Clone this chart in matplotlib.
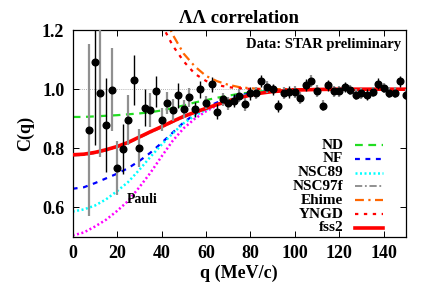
import matplotlib
matplotlib.use('Agg')
import matplotlib.pyplot as plt
import numpy as np

plt.rcParams['font.family'] = ['Liberation Serif', 'DejaVu Serif']
plt.rcParams['font.weight'] = 'bold'

# STAR preliminary data
q_data = [7.5, 10, 12.5, 15, 17.5, 20, 22.5, 25, 27.5, 30, 32.5, 35, 37.5, 40, 42.5,
          45, 47.5, 50, 52.5, 55, 57.5, 60, 62.5, 65, 67.5, 70, 72.5, 75, 77.5, 80,
          82.5, 85, 87.5, 90, 92.5, 95, 97.5, 100, 102.5, 105, 107.5, 110, 112.5, 115,
          117.5, 120, 122.5, 125, 127.5, 130, 132.5, 135, 137.5, 140, 142.5, 145, 147.5, 150]
c_data = [0.862, 1.091, 0.986, 0.879, 0.998, 0.733, 0.797, 0.896, 1.032, 0.800, 0.938,
          0.930, 0.993, 0.897, 0.952, 0.930, 0.980, 0.932, 0.972, 0.932, 0.999, 0.954,
          1.017, 0.924, 0.966, 0.952, 0.961, 0.977, 0.949, 0.986, 0.986, 1.028, 1.008,
          0.999, 0.944, 0.986, 0.991, 0.991, 0.971, 1.013, 1.027, 0.993, 0.944, 1.013,
          0.993, 0.993, 1.008, 0.997, 0.982, 0.986, 0.982, 0.990, 1.019, 1.004, 0.988,
          0.988, 1.027, 0.982]
c_err = [0.29, 0.28, 0.215, 0.16, 0.14, 0.092, 0.085, 0.086, 0.085, 0.064, 0.064,
         0.057, 0.053, 0.040, 0.037, 0.036, 0.042, 0.031, 0.031, 0.025, 0.028, 0.022,
         0.025, 0.025, 0.022, 0.022, 0.022, 0.022, 0.022, 0.022, 0.02, 0.02, 0.02,
         0.02, 0.02, 0.02, 0.02, 0.02, 0.02, 0.02, 0.02, 0.02, 0.018, 0.018,
         0.018, 0.018, 0.018, 0.018, 0.018, 0.018, 0.018, 0.018, 0.018, 0.018, 0.018,
         0.018, 0.018, 0.018]
bar_gray = 'gkgkggkgkgkgkgggkggkkgkkggkggkgkgkkgkggkgggkggkgggkgkgggkg'

# model curves
q_th = [0, 5, 10, 15, 20, 25, 30, 35, 40, 45, 50, 55, 60, 65, 70, 75, 80, 85, 90,
        100, 110, 120, 130, 140, 150]
c_nd = [0.906, 0.906, 0.908, 0.910, 0.912, 0.915, 0.918, 0.922, 0.928, 0.936, 0.945,
        0.955, 0.963, 0.971, 0.978, 0.984, 0.989, 0.993, 0.996, 0.999, 1.0, 1.0, 1.0, 1.0, 1.0]
c_nf = [0.663, 0.668, 0.682, 0.698, 0.714, 0.733, 0.757, 0.785, 0.818, 0.853, 0.888,
        0.915, 0.938, 0.955, 0.968, 0.978, 0.986, 0.992, 0.996, 0.999, 1.0, 1.0, 1.0, 1.0, 1.0]
c_nsc89 = [0.586, 0.593, 0.606, 0.627, 0.655, 0.686, 0.727, 0.771, 0.812, 0.850, 0.885,
           0.910, 0.930, 0.948, 0.963, 0.975, 0.984, 0.991, 0.995, 0.999, 1.0, 1.0, 1.0, 1.0, 1.0]
c_nsc97f = [0.775, 0.777, 0.783, 0.792, 0.803, 0.817, 0.835, 0.853, 0.870, 0.888, 0.905,
            0.920, 0.933, 0.946, 0.958, 0.969, 0.978, 0.986, 0.991, 0.997, 0.999, 1.0, 1.0, 1.0, 1.0]
c_ehime = [2.6, 2.55, 2.4, 2.2, 1.97, 1.75, 1.56, 1.40, 1.27, 1.185, 1.12, 1.077, 1.045,
           1.027, 1.015, 1.007, 1.003, 1.001, 1.0, 1.0, 1.0, 1.0, 1.0, 1.0, 1.0]
c_yngd = [2.4, 2.35, 2.2, 2.0, 1.8, 1.6, 1.46, 1.34, 1.22, 1.148, 1.094, 1.052, 1.028,
          1.014, 1.007, 1.003, 1.001, 1.0, 1.0, 1.0, 1.0, 1.0, 1.0, 1.0, 1.0]
c_fss2 = [0.778, 0.780, 0.786, 0.795, 0.806, 0.820, 0.838, 0.856, 0.873, 0.891, 0.908,
          0.922, 0.935, 0.948, 0.960, 0.971, 0.980, 0.987, 0.992, 0.997, 0.999, 1.0, 1.0, 1.0, 1.0]
c_pauli = [0.505, 0.515, 0.535, 0.558, 0.588, 0.622, 0.668, 0.717, 0.772, 0.825, 0.868,
           0.900, 0.925, 0.945, 0.960, 0.973, 0.982, 0.989, 0.994, 0.998, 1.0, 1.0, 1.0, 1.0, 1.0]

names = ['ND', 'NF', 'NSC89', 'NSC97f', 'Ehime', 'YNGD', 'fss2']
curves = [c_nd, c_nf, c_nsc89, c_nsc97f, c_ehime, c_yngd, c_fss2]
styles = [dict(color='#22dd22', lw=1.6, dashes=(3.5, 2.5)),
          dict(color='#0000ff', lw=1.6, dashes=(2.2, 2.5)),
          dict(color='#00ffff', lw=1.8, dashes=(0.8, 1.0)),
          dict(color='#888888', lw=1.3, dashes=(4, 1.5, 1, 1.5)),
          dict(color='#ff6600', lw=1.6, dashes=(4, 2, 1, 2)),
          dict(color='#ff0000', lw=1.6, dashes=(1.5, 2.5)),
          dict(color='#ff0000', lw=2.6, linestyle='-')]

fig = plt.figure(figsize=(4.25, 2.98), dpi=100)
ax = fig.add_axes([0.171, 0.205, 0.784, 0.694])

ax.axhline(1.0, color='#999999', lw=0.6, ls=(0, (1, 1.5)), zorder=0)

ax.plot(q_th, c_pauli, color='#ff00ff', lw=1.8, dashes=(0.8, 1.0), zorder=2)
for name, c, st in zip(names, curves, styles):
    ax.plot(q_th, c, zorder=3 if name == 'fss2' else 2, **st)

q_arr = np.array(q_data)
c_arr = np.array(c_data)
e_arr = np.array(c_err)
gmask = np.array([ch == 'g' for ch in bar_gray])
ax.errorbar(q_arr[gmask], c_arr[gmask], yerr=e_arr[gmask], fmt='none',
            ecolor='#909090', elinewidth=1.6, capsize=0, zorder=4)
ax.errorbar(q_arr[~gmask], c_arr[~gmask], yerr=e_arr[~gmask], fmt='none',
            ecolor='black', elinewidth=1.0, capsize=0, zorder=4)
ax.plot(q_arr, c_arr, 'o', color='black', ms=4.8, zorder=5, clip_on=True)

ax.set_xlim(0, 150)
ax.set_ylim(0.5, 1.2)
ax.set_xticks([0, 20, 40, 60, 80, 100, 120, 140])
ax.set_yticks([0.6, 0.8, 1.0, 1.2])
ax.set_yticklabels(['0.6', '0.8', '1.0', '1.2'])
ax.tick_params(direction='in', top=True, right=True, length=4, width=0.7,
               labelsize=13, pad=6)
for s in ax.spines.values():
    s.set_linewidth(0.9)

ax.set_xlabel('q (MeV/c)', fontsize=13, fontweight='bold', labelpad=2)
ax.set_ylabel('C(q)', fontsize=13, fontweight='bold', labelpad=6)
ax.set_title('ΛΛ correlation', fontsize=13.5, fontweight='bold', pad=5)

ax.text(0.985, 0.93, 'Data: STAR preliminary', transform=ax.transAxes,
        ha='right', va='center', fontsize=10.5, fontweight='bold')
ax.text(24.5, 0.628, 'Pauli', ha='left', va='center', fontsize=10, fontweight='bold')

# legend, gnuplot style
for i, (name, st) in enumerate(zip(names, styles)):
    yy = 0.444 - i * 0.0667
    ax.text(0.812, yy, name, transform=ax.transAxes, ha='right', va='center',
            fontsize=11, fontweight='bold')
    ax.plot([0.848, 0.932], [yy, yy], transform=ax.transAxes, **st)

fig.savefig('out.png', dpi=100)
